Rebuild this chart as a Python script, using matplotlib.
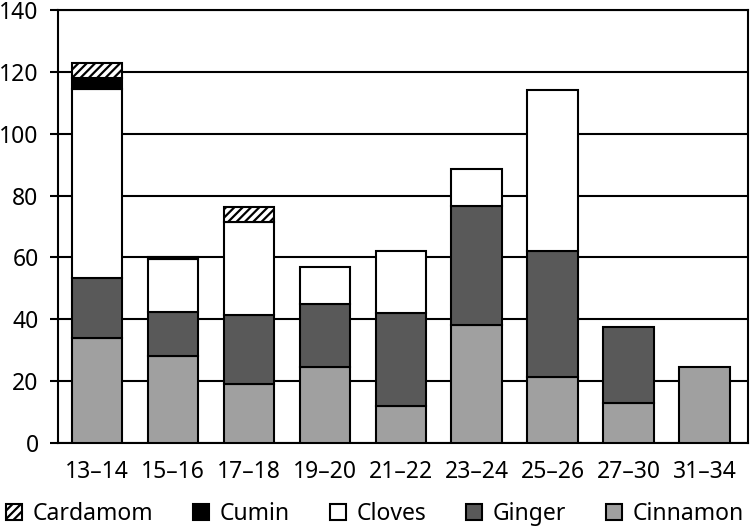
import matplotlib
matplotlib.use("Agg")
import matplotlib.pyplot as plt
import numpy as np

categories = ["13–14", "15–16", "17–18", "19–20", "21–22", "23–24", "25–26", "27–30", "31–34"]
cinnamon = [34, 28, 19, 24.5, 12, 38, 21.5, 13, 24.5]
ginger = [19.5, 14.5, 22.5, 20.5, 30, 38.5, 40.5, 24.5, 0]
cloves = [61, 17, 30, 12, 20, 12, 52, 0, 0]
cumin = [3.5, 0.7, 0, 0, 0, 0, 0, 0, 0]
cardamom = [5, 0, 4.8, 0, 0, 0, 0, 0, 0]
yticks = [0, 20, 40, 60, 80, 100, 120, 140]

plt.rcParams['font.family'] = ['Noto Sans', 'DejaVu Sans']
plt.rcParams['hatch.linewidth'] = 1.6

fig = plt.figure(figsize=(7.5, 5.28), dpi=100)
ax = fig.add_axes([0.0773, 0.161, 0.9197, 0.82])

series = [
    ("Cinnamon", cinnamon, dict(facecolor="#a0a0a0")),
    ("Ginger", ginger, dict(facecolor="#595959")),
    ("Cloves", cloves, dict(facecolor="white")),
    ("Cumin", cumin, dict(facecolor="black")),
    ("Cardamom", cardamom, dict(facecolor="white", hatch="////")),
]

x = np.arange(len(categories))
bottom = np.zeros(len(categories))
handles = {}
for name, vals, style in series:
    vals = np.array(vals, dtype=float)
    idx = vals > 0
    h = ax.bar(x[idx], vals[idx], width=0.66, bottom=bottom[idx], edgecolor="black",
               linewidth=1.5, zorder=3, label=name, **style)
    handles[name] = h
    bottom += vals

ax.set_ylim(0, 140)
ax.set_xlim(-0.51, 8.57)
ax.set_yticks(yticks)
ax.set_xticks(x)
ax.set_xticklabels(categories)
ax.yaxis.grid(True, color="black", linewidth=1.5, zorder=0)
ax.set_axisbelow(True)
for s in ax.spines.values():
    s.set_linewidth(1.5)
    s.set_color("black")
ax.tick_params(axis="y", direction="out", length=6, width=1.5, labelsize=16.5, pad=8)
ax.tick_params(axis="x", length=0, labelsize=16.5, pad=12)

order = ["Cardamom", "Cumin", "Cloves", "Ginger", "Cinnamon"]
fig.legend([handles[n] for n in order], order, loc="center", ncol=5,
           bbox_to_anchor=(0.5, 0.027), frameon=False, fontsize=16.5,
           handlelength=0.7, handleheight=0.7, handletextpad=0.45, columnspacing=1.75,
           borderpad=0.0, borderaxespad=0.0)

fig.savefig("out.png", dpi=100)
